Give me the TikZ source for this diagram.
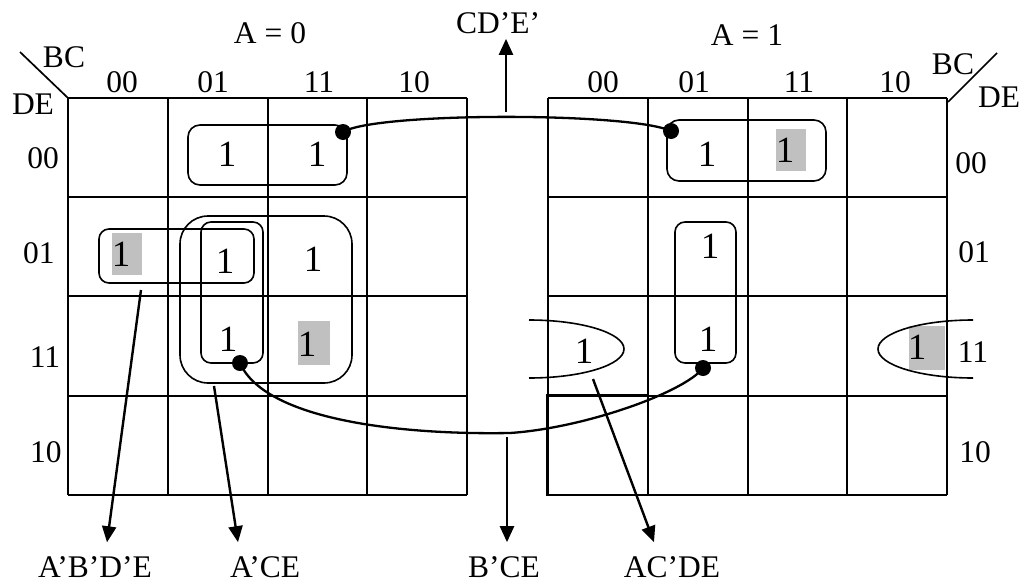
\documentclass[tikz,border=0pt]{standalone}
\usepackage{fontspec}
\setmainfont{Liberation Serif}
\usetikzlibrary{arrows.meta}
\definecolor{cellgray}{RGB}{192,192,192}
\tikzset{
  lbl/.style={font=\fontsize{31.5}{36}\selectfont, inner sep=0pt},
  one/.style={font=\fontsize{37}{44}\selectfont, inner sep=0pt},
  grp/.style={line width=1.6pt, rounded corners=#1},
  grp/.default=10pt,
  link/.style={line width=2.3pt},
  tap/.style={line width=2.4pt, -{Triangle[length=16pt,width=14pt]}},
  dot/.style={circle, fill, inner sep=0pt, minimum size=16pt}
}
\begin{document}
\begin{tikzpicture}[x=1pt,y=-1pt]
  \useasboundingbox (0,0) rectangle (1021,584);
  % shaded cells
  \fill[cellgray] (112,233) rectangle (142,275);
  \fill[cellgray] (298,321) rectangle (330,365);
  \fill[cellgray] (776,129) rectangle (806,171);
  \fill[cellgray] (909,326) rectangle (945,370);
  % grids
  \foreach \x in {68,168,268,367,467} \draw[line width=2pt] (\x,98)--(\x,495);
  \foreach \y in {98,197,296,396,495} \draw[line width=2pt] (68,\y)--(467,\y);
  \foreach \x in {548,648,748,847,947} \draw[line width=2pt] (\x,98)--(\x,495);
  \foreach \y in {98,197,296,396,495} \draw[line width=2pt] (548,\y)--(947,\y);
  \draw[line width=2pt] (547.3,395.3) rectangle (647.5,495);
  \draw[line width=1.7pt] (20,52)--(68,98);
  \draw[line width=1.7pt] (948,102)--(997,53);
  % headings
  \node[lbl] (a0) at (270,33) {A = 0};
  \node[lbl] (a1) at (747,35) {A = 1};
  \node[lbl] (bcl) at (64,57) {BC};
  \node[lbl] (del) at (33,104) {DE};
  \node[lbl] (bcr) at (953,64) {BC};
  \node[lbl] (der) at (999,97) {DE};
  \node[lbl] (cl00) at (122,82) {00};
  \node[lbl] (cl01) at (213,82) {01};
  \node[lbl] (cl11) at (319,82) {11};
  \node[lbl] (cl10) at (414,82) {10};
  \node[lbl] (cr00) at (603,82) {00};
  \node[lbl] (cr01) at (694,82) {01};
  \node[lbl] (cr11) at (799,82) {11};
  \node[lbl] (cr10) at (895,82) {10};
  \node[lbl] (rl00) at (43,158) {00};
  \node[lbl] (rl01) at (39,253) {01};
  \node[lbl] (rl11) at (45,357) {11};
  \node[lbl] (rl10) at (46,452) {10};
  \node[lbl] (rr00) at (971,163) {00};
  \node[lbl] (rr01) at (974,252) {01};
  \node[lbl] (rr11) at (973,352) {11};
  \node[lbl] (rr10) at (975,452) {10};
  % ones, A = 0
  \node[one] (m2) at (227,154) {1};
  \node[one] (m6) at (317,154) {1};
  \node[one] (m1) at (121,254) {1};
  \node[one] (m5) at (225,261) {1};
  \node[one] (m7) at (313,259) {1};
  \node[one] (m13) at (228,339) {1};
  \node[one] (m15) at (307,344) {1};
  % ones, A = 1
  \node[one] (m18) at (707,154) {1};
  \node[one] (m22) at (785,150) {1};
  \node[one] (m21) at (710,246) {1};
  \node[one] (m29) at (708,339) {1};
  \node[one] (m19) at (584,351) {1};
  \node[one] (m27) at (917,347) {1};
  % groups
  \draw[grp=12pt] (188,125) rectangle (347,185);
  \draw[grp] (99,229) rectangle (254,283);
  \draw[grp] (201,222) rectangle (263,363);
  \draw[grp=28pt] (180,216) rectangle (352,383);
  \draw[grp=12pt] (667,120) rectangle (826,181);
  \draw[grp] (675,222) rectangle (736,363);
  \draw[grp=0pt] (529,320) arc[start angle=90, end angle=-90, x radius=95pt, y radius=29pt];
  \draw[grp=0pt] (973,320) arc[start angle=90, end angle=270, x radius=95pt, y radius=29pt];
  % linked pairs
  \node[dot] (p1) at (343,132) {};
  \node[dot] (p2) at (671,131) {};
  \node[dot] (q1) at (240,363) {};
  \node[dot] (q2) at (703,368) {};
  \draw[link] (p1.center) .. controls (375,112) and (630,112) .. (p2.center);
  \draw[link] (q1.center) .. controls (265,420) and (400,435) .. (510,433)
    .. controls (585,428) and (685,392) .. (q2.center);
  % terms
  \node[lbl] (f0) at (498,23) {CD’E’};
  \node[lbl] (f1) at (95,567) {A’B’D’E};
  \node[lbl] (f2) at (265,567) {A’CE};
  \node[lbl] (f3) at (504,567) {B’CE};
  \node[lbl] (f4) at (672,567) {AC’DE};
  \coordinate (s0) at (506,112);
  \coordinate (s1) at (141,290);
  \coordinate (s2) at (214,386);
  \coordinate (s3) at (507,437);
  \coordinate (s4) at (593,379);
  \draw[tap] (s0) -- ([xshift=8pt,yshift=-5pt]f0.south);
  \draw[tap] (s1) -- ([xshift=12pt,yshift=14pt]f1.north);
  \draw[tap] (s2) -- ([xshift=-27pt,yshift=14pt]f2.north);
  \draw[tap] (s3) -- ([xshift=3pt,yshift=14pt]f3.north);
  \draw[tap] (s4) -- ([xshift=-18pt,yshift=14pt]f4.north);
\end{tikzpicture}
\end{document}
